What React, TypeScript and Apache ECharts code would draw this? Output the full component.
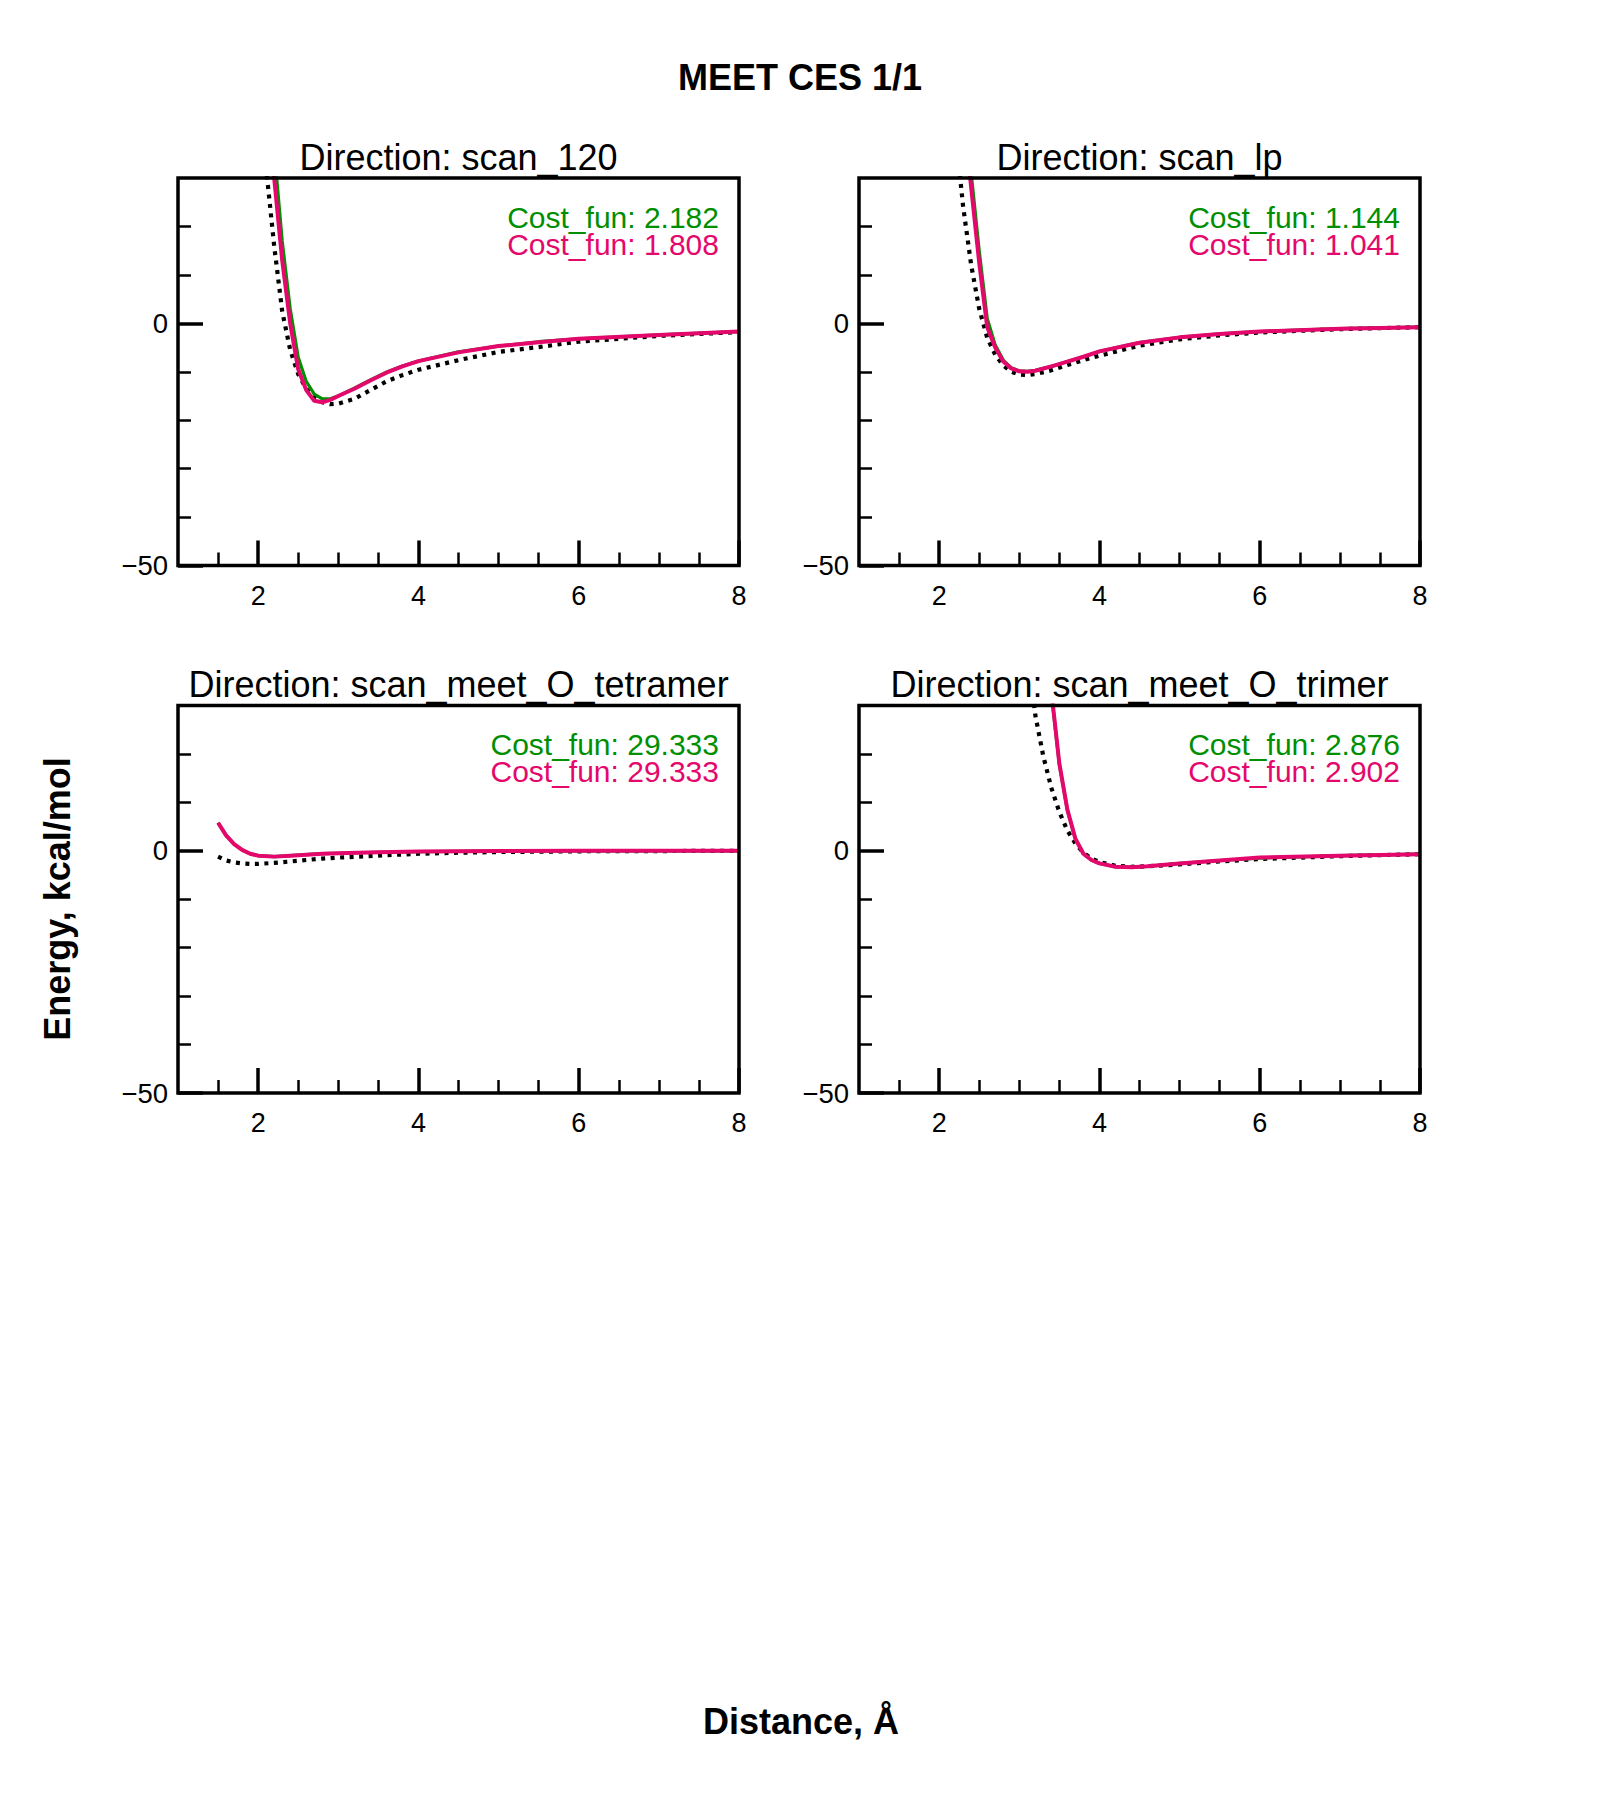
import React, { useEffect, useRef } from "react";
import * as echarts from "echarts";

// ---------- axis / tick definitions ----------
const X_MIN = 1;
const X_MAX = 8;
const Y_MIN = -50;
const Y_MAX = 30;
const X_MAJOR = [2, 4, 6, 8];
const X_MINOR = [1.5, 2.5, 3, 3.5, 4.5, 5, 5.5, 6.5, 7, 7.5];
const Y_MAJOR = [-50, 0];
const Y_MINOR = [-40, -30, -20, -10, 10, 20];

const MAIN_TITLE = "MEET CES 1/1";
const X_LABEL = "Distance, Å";
const Y_LABEL = "Energy, kcal/mol";
const TITLES = [
  "Direction: scan_120",
  "Direction: scan_lp",
  "Direction: scan_meet_O_tetramer",
  "Direction: scan_meet_O_trimer",
];
const COST_GREEN = ["2.182", "1.144", "29.333", "2.876"];
const COST_PINK = ["1.808", "1.041", "29.333", "2.902"];

// ---------- data: scan_120 ----------
const s120RefX = [2.0, 2.1, 2.2, 2.3, 2.4, 2.5, 2.6, 2.7, 2.8, 2.9, 3.0, 3.2, 3.4, 3.6, 3.8, 4.0, 4.5, 5.0, 5.5, 6.0, 7.0, 8.0];
const s120RefY = [52, 32, 16, 2.5, -5.5, -10.5, -13.5, -15.3, -16.3, -16.7, -16.6, -15.6, -13.8, -12.0, -10.7, -9.6, -7.6, -5.9, -4.9, -3.8, -2.6, -1.8];
const s120FitX = [2.1, 2.2, 2.3, 2.4, 2.5, 2.6, 2.7, 2.8, 2.9, 3.0, 3.2, 3.4, 3.6, 3.8, 4.0, 4.5, 5.0, 5.5, 6.0, 7.0, 8.0];
const s120GreenY = [60, 36, 17, 3, -7, -12, -14.6, -15.6, -15.6, -15.0, -13.4, -11.7, -10.1, -8.8, -7.8, -5.9, -4.7, -3.8, -3.2, -2.4, -1.7];
const s120PinkY = [52, 30, 13, 0, -9.5, -13.8, -16.0, -16.3, -15.8, -15.0, -13.5, -11.8, -10.2, -8.9, -7.8, -6.0, -4.7, -3.9, -3.2, -2.4, -1.7];

// ---------- data: scan_lp ----------
const slpRefX = [2.1, 2.2, 2.3, 2.4, 2.5, 2.6, 2.7, 2.8, 2.9, 3.0, 3.1, 3.2, 3.4, 3.6, 3.8, 4.0, 4.5, 5.0, 5.5, 6.0, 7.0, 8.0];
const slpRefY = [62, 40, 24, 12, 3, -3, -6.5, -8.7, -10.0, -10.6, -10.7, -10.5, -9.7, -8.6, -7.6, -6.7, -4.6, -3.3, -2.5, -1.9, -1.2, -0.8];
const slpFitX = [2.2, 2.3, 2.4, 2.5, 2.6, 2.7, 2.8, 2.9, 3.0, 3.1, 3.2, 3.4, 3.6, 3.8, 4.0, 4.5, 5.0, 5.5, 6.0, 7.0, 8.0];
const slpGreenY = [70, 48, 31, 15, 1, -4.5, -7.6, -9.2, -9.8, -9.9, -9.7, -8.9, -7.9, -6.9, -5.8, -4.0, -2.9, -2.2, -1.7, -1.1, -0.8];
const slpPinkY = [66, 44, 28, 12.5, -0.8, -5.0, -7.9, -9.3, -9.9, -10.0, -9.8, -8.9, -7.9, -6.9, -5.8, -4.0, -2.9, -2.2, -1.7, -1.1, -0.8];

// ---------- data: scan_meet_O_tetramer ----------
const stetRefX = [1.5, 1.6, 1.7, 1.8, 1.9, 2.0, 2.2, 2.4, 2.6, 2.8, 3.0, 3.5, 4.0, 4.5, 5.0, 6.0, 7.0, 8.0];
const stetRefY = [-1.2, -2.0, -2.4, -2.6, -2.7, -2.7, -2.5, -2.2, -1.9, -1.6, -1.4, -1.0, -0.6, -0.4, -0.25, -0.1, -0.05, 0];
const stetFitX = [1.5, 1.6, 1.7, 1.8, 1.9, 2.0, 2.2, 2.4, 2.6, 2.8, 3.0, 3.5, 4.0, 4.5, 5.0, 6.0, 7.0, 8.0];
const stetGreenY = [5.8, 3.2, 1.4, 0.2, -0.6, -1.0, -1.2, -1.0, -0.8, -0.6, -0.5, -0.3, -0.15, -0.1, -0.05, 0, 0, 0];
const stetPinkY = [5.8, 3.2, 1.4, 0.2, -0.6, -1.0, -1.2, -1.0, -0.8, -0.6, -0.5, -0.3, -0.15, -0.1, -0.05, 0, 0, 0];

// ---------- data: scan_meet_O_trimer ----------
const strRefX = [3.1, 3.2, 3.3, 3.4, 3.5, 3.6, 3.7, 3.8, 3.9, 4.0, 4.2, 4.4, 4.6, 5.0, 5.5, 6.0, 7.0, 8.0];
const strRefY = [42, 28, 19.5, 13, 8, 4.2, 1.5, -0.4, -1.6, -2.3, -3.1, -3.3, -3.2, -2.8, -2.2, -1.7, -1.1, -0.7];
const strFitX = [3.3, 3.4, 3.5, 3.6, 3.7, 3.8, 3.9, 4.0, 4.2, 4.4, 4.6, 5.0, 5.5, 6.0, 7.0, 8.0];
const strGreenY = [54, 32.5, 17.8, 8.4, 2.5, -0.6, -1.9, -2.6, -3.3, -3.4, -3.2, -2.6, -2.0, -1.5, -1.0, -0.7];
const strPinkY = [55, 33, 18, 8.5, 2.5, -0.6, -1.9, -2.6, -3.3, -3.4, -3.2, -2.6, -2.0, -1.4, -1.0, -0.7];

const PANELS = [
  { refX: s120RefX, refY: s120RefY, fitX: s120FitX, greenY: s120GreenY, pinkY: s120PinkY },
  { refX: slpRefX, refY: slpRefY, fitX: slpFitX, greenY: slpGreenY, pinkY: slpPinkY },
  { refX: stetRefX, refY: stetRefY, fitX: stetFitX, greenY: stetGreenY, pinkY: stetPinkY },
  { refX: strRefX, refY: strRefY, fitX: strFitX, greenY: strGreenY, pinkY: strPinkY },
];

// ---------- layout / style ----------
const FONT = "'Liberation Sans', Arial, Helvetica, sans-serif";
const GREEN = "#008f00";
const PINK = "#e5086c";
const GRIDS = [
  { left: 178, top: 178, width: 561, height: 387.5 },
  { left: 859, top: 178, width: 561, height: 387.5 },
  { left: 178, top: 705.5, width: 561, height: 387.5 },
  { left: 859, top: 705.5, width: 561, height: 387.5 },
];

const zip = (xs: number[], ys: number[]) => xs.map((x, i) => [x, ys[i]]);
const fmtY = (v: number) => (v < 0 ? "\u2212" + Math.abs(v) : String(v));

function buildOption() {
  const xAxis: any[] = [];
  const yAxis: any[] = [];
  const series: any[] = [];
  const graphic: any[] = [];

  GRIDS.forEach((g, i) => {
    xAxis.push({
      gridIndex: i, type: "value", min: X_MIN, max: X_MAX, position: "bottom",
      axisLine: { show: false, onZero: false }, splitLine: { show: false },
      axisTick: { show: true, inside: true, length: 25, customValues: X_MAJOR, lineStyle: { color: "#000", width: 3.5 } },
      axisLabel: { show: true, customValues: X_MAJOR, margin: 30, verticalAlign: "middle", color: "#000", fontSize: 27, fontFamily: FONT },
    });
    yAxis.push({
      gridIndex: i, type: "value", min: Y_MIN, max: Y_MAX, position: "left",
      axisLine: { show: false, onZero: false }, splitLine: { show: false },
      axisTick: { show: true, inside: true, length: 25, customValues: Y_MAJOR, lineStyle: { color: "#000", width: 3.5 } },
      axisLabel: { show: true, customValues: Y_MAJOR, margin: 10, color: "#000", fontSize: 27.5, fontFamily: FONT, formatter: fmtY },
    });
  });
  GRIDS.forEach((g, i) => {
    xAxis.push({
      gridIndex: i, type: "value", min: X_MIN, max: X_MAX, position: "bottom",
      axisLine: { show: false, onZero: false }, splitLine: { show: false },
      axisTick: { show: true, inside: true, length: 13, customValues: X_MINOR, lineStyle: { color: "#000", width: 2.5 } },
      axisLabel: { show: false },
    });
    yAxis.push({
      gridIndex: i, type: "value", min: Y_MIN, max: Y_MAX, position: "left",
      axisLine: { show: false, onZero: false }, splitLine: { show: false },
      axisTick: { show: true, inside: true, length: 13, customValues: Y_MINOR, lineStyle: { color: "#000", width: 2.5 } },
      axisLabel: { show: false },
    });
  });

  PANELS.forEach((p, i) => {
    series.push({
      type: "line", xAxisIndex: i, yAxisIndex: i, data: zip(p.refX, p.refY), showSymbol: false, clip: true,
      lineStyle: { color: "#000", width: 4.2, type: [4, 5.5], cap: "butt" }, z: 2,
    });
    series.push({
      type: "line", xAxisIndex: i, yAxisIndex: i, data: zip(p.fitX, p.greenY), showSymbol: false, clip: true,
      lineStyle: { color: GREEN, width: 3.2 }, z: 3,
    });
    series.push({
      type: "line", xAxisIndex: i, yAxisIndex: i, data: zip(p.fitX, p.pinkY), showSymbol: false, clip: true,
      lineStyle: { color: PINK, width: 4 }, z: 4,
    });
  });

  GRIDS.forEach((g, i) => {
    graphic.push({
      type: "rect", z: 100, silent: true,
      shape: { x: g.left, y: g.top, width: g.width, height: g.height },
      style: { fill: "none", stroke: "#000", lineWidth: 3.5 },
    });
    graphic.push({
      type: "text", z: 100, x: g.left + g.width / 2, y: g.top - 21,
      style: { text: TITLES[i], fill: "#000", fontSize: 36, fontFamily: FONT, align: "center", verticalAlign: "middle" },
    });
    graphic.push({
      type: "text", z: 100, x: g.left + g.width - 20, y: g.top + 52.5,
      style: {
        text: "{g|Cost_fun: " + COST_GREEN[i] + "}\n{p|Cost_fun: " + COST_PINK[i] + "}",
        align: "right", verticalAlign: "middle", fontSize: 30, fontFamily: FONT, lineHeight: 27,
        rich: {
          g: { fill: GREEN, color: GREEN, fontSize: 30, fontFamily: FONT, lineHeight: 27 },
          p: { fill: PINK, color: PINK, fontSize: 30, fontFamily: FONT, lineHeight: 27 },
        },
      },
    });
  });

  graphic.push({
    type: "text", z: 100, x: 800, y: 77,
    style: { text: MAIN_TITLE, fill: "#000", fontSize: 36, fontWeight: "bold", fontFamily: FONT, align: "center", verticalAlign: "middle" },
  });
  graphic.push({
    type: "text", z: 100, x: 801, y: 1721.5,
    style: { text: X_LABEL, fill: "#000", fontSize: 36, fontWeight: "bold", fontFamily: FONT, align: "center", verticalAlign: "middle" },
  });
  graphic.push({
    type: "text", z: 100, x: 57, y: 899, rotation: Math.PI / 2,
    style: { text: Y_LABEL, fill: "#000", fontSize: 36, fontWeight: "bold", fontFamily: FONT, align: "center", verticalAlign: "middle" },
  });

  return {
    animation: false,
    backgroundColor: "#fff",
    grid: GRIDS.map((g) => ({ ...g, containLabel: false, show: false })),
    xAxis,
    yAxis,
    series,
    graphic,
  };
}

export default function App() {
  const ref = useRef<HTMLDivElement>(null);
  useEffect(() => {
    if (!ref.current) return;
    const chart = echarts.init(ref.current, null, { renderer: "svg" });
    chart.setOption(buildOption() as any);
    return () => chart.dispose();
  }, []);
  return (
    <div
      ref={ref}
      style={{ position: "absolute", left: 0, top: 0, width: 1600, height: 1800, background: "#fff" }}
    />
  );
}
